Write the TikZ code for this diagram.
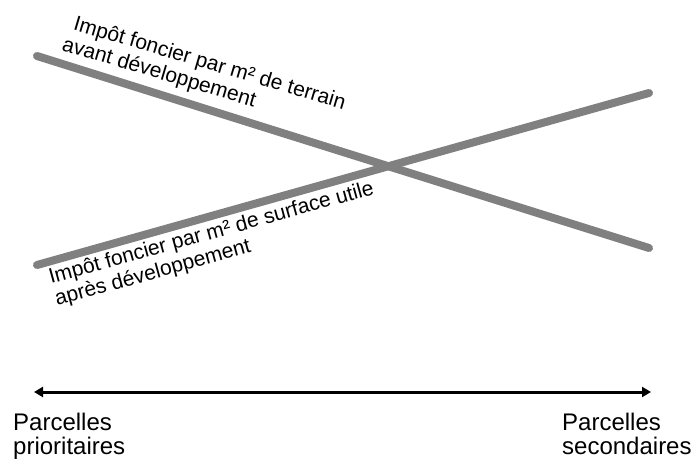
\documentclass[tikz,border=0pt]{standalone}
\usepackage{fontspec}
\setmainfont{Liberation Sans}
\usetikzlibrary{arrows.meta}
\definecolor{lignegris}{RGB}{128,128,128}

\begin{document}
\begin{tikzpicture}[x=1pt, y=-1pt,
    courbe/.style={lignegris, line width=8pt, line cap=round},
    axe/.style={black, line width=3pt, {Triangle[length=9pt,width=10pt]}-{Triangle[length=9pt,width=10pt]}},
    etiquette/.style={font=\fontsize{21}{23}\selectfont, align=left, inner sep=0pt, anchor=base west},
    extremite/.style={font=\fontsize{24}{24}\selectfont, align=left, inner sep=0pt, anchor=base west}]
            \useasboundingbox (0,0) rectangle (691,463);

            \coordinate (A1) at (37,56);
            \coordinate (A2) at (649,248);
            \coordinate (B1) at (37,265);
            \coordinate (B2) at (649,93);
            \coordinate (gauche) at (34,392);
            \coordinate (droite) at (651,392);

            \draw[courbe] (A1) -- (A2);
            \draw[courbe] (B1) -- (B2);
            \draw[axe] (gauche) -- (droite);

            % base west = start of the last line
            \node[etiquette, rotate=-16.5] (avant) at (61,50)
                {\hspace*{5pt}Impôt foncier par m² de terrain\\avant développement};
            \node[etiquette, rotate=15.5] (apres) at (57,306)
                {Impôt foncier par m² de surface utile\\après développement};

            \node[extremite] (prio) at (13,454) {Parcelles\\prioritaires};
            \node[extremite] (second) at (562,454) {Parcelles\\secondaires};
        \end{tikzpicture}
\end{document}
